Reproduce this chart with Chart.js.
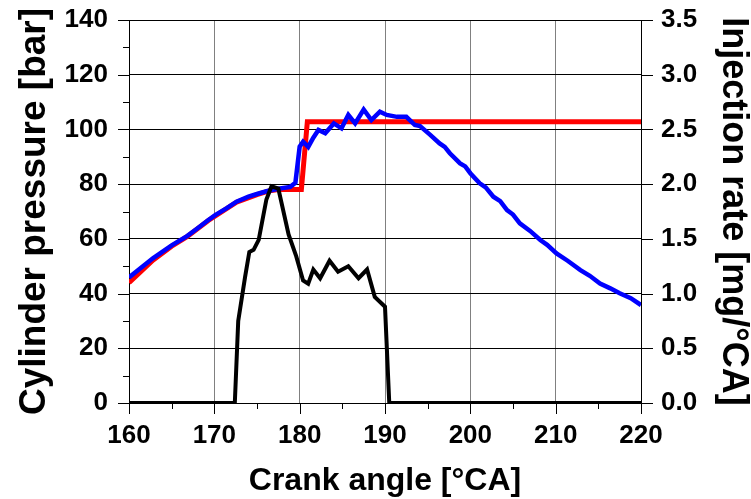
<!DOCTYPE html>
<html>
<head>
<meta charset="utf-8">
<script src="https://cdn.jsdelivr.net/npm/chart.js@4.4.0/dist/chart.umd.min.js"></script>
<style>
  html, body { margin: 0; padding: 0; background: #fff; }
</style>
</head>
<body>
<canvas id="pressureChart" width="751" height="499"></canvas>
<script>
// tick labels
const crankTicks = [160, 170, 180, 190, 200, 210, 220];
const pressureTicks = [0, 20, 40, 60, 80, 100, 120, 140];
const rateTicks = [0, 0.5, 1.0, 1.5, 2.0, 2.5, 3.0, 3.5];

// measured cylinder pressure (blue)
const measAngle = [160, 162.8, 165, 166.8, 168, 169.3, 170.1, 171.5, 172.6, 174, 175, 176.1, 177.5, 178.9, 179.5, 180.0, 180.4, 181.0, 181.6, 182.2, 183.0, 184.0, 184.9, 185.7, 186.5, 187.5, 188.4, 189.4, 190.2, 191.4, 192.5, 193.5, 194.1, 195.3, 196.4, 197.0, 197.6, 198.8, 199.4, 200.0, 201.1, 201.8, 202.7, 203.5, 204.3, 205.0, 205.8, 207.0, 208.2, 209.0, 210.1, 211.4, 212.9, 214.0, 215.2, 216.4, 217.5, 218.8, 220];
const measPressure = [45.9, 52.9, 57.6, 61.0, 63.8, 66.9, 68.7, 71.3, 73.6, 75.4, 76.4, 77.4, 78.3, 79.0, 80.5, 93.7, 95.5, 93.6, 97.0, 99.8, 98.6, 102.2, 100.4, 105.3, 102.2, 107.3, 103.4, 106.5, 105.3, 104.6, 104.6, 101.6, 101.2, 98.0, 94.9, 93.6, 91.3, 87.6, 86.5, 84.0, 80.3, 78.8, 75.4, 73.8, 70.5, 68.9, 65.7, 62.9, 59.6, 57.8, 54.7, 52.0, 48.6, 46.5, 43.7, 41.9, 40.1, 38.3, 35.8];

// simulated cylinder pressure (red)
const simAngle = [160, 162.8, 165, 166.8, 169.3, 172.6, 175, 176.5, 177.5, 180.2, 180.9, 220];
const simPressure = [44.0, 52.2, 57.3, 60.8, 66.7, 73.4, 76.2, 77.6, 78.0, 78.0, 102.8, 102.8];

// injection rate (black)
const injAngle = [160, 172.4, 172.8, 173.6, 174.1, 174.6, 175.2, 176.1, 176.7, 177.5, 178.7, 179.6, 180.4, 181.0, 181.6, 182.4, 183.5, 184.5, 185.7, 186.9, 187.9, 188.8, 190.0, 190.5, 220];
const injRate = [0, 0, 0.75, 1.15, 1.38, 1.40, 1.49, 1.86, 1.98, 1.96, 1.54, 1.34, 1.12, 1.09, 1.22, 1.14, 1.30, 1.20, 1.25, 1.14, 1.22, 0.97, 0.88, 0, 0];

const toPoints = (xs, ys) => xs.map((x, i) => ({ x: x, y: ys[i] }));

const FONT = "'Liberation Sans', Arial, sans-serif";

// tick marks outside the axes, majors long and minors short
const tickMarks = {
  id: 'tickMarks',
  afterDraw(chart) {
    const { ctx, chartArea: a, scales } = chart;
    const line = (x1, y1, x2, y2) => {
      ctx.beginPath();
      ctx.moveTo(x1, y1);
      ctx.lineTo(x2, y2);
      ctx.stroke();
    };
    ctx.save();
    ctx.strokeStyle = '#000';
    ctx.lineWidth = 1;
    crankTicks.forEach((v, i) => {
      const px = Math.round(scales.x.getPixelForValue(v)) + 0.5;
      line(px, a.bottom, px, a.bottom + 11);
      if (i < crankTicks.length - 1) {
        const pm = Math.round(scales.x.getPixelForValue((v + crankTicks[i + 1]) / 2)) + 0.5;
        line(pm, a.bottom, pm, a.bottom + 6);
      }
    });
    pressureTicks.forEach((v, i) => {
      const py = Math.round(scales.y.getPixelForValue(v)) + 0.5;
      line(a.left - 11, py, a.left, py);
      if (i < pressureTicks.length - 1) {
        const pm = Math.round(scales.y.getPixelForValue((v + pressureTicks[i + 1]) / 2)) + 0.5;
        line(a.left - 6, pm, a.left, pm);
      }
    });
    rateTicks.forEach(v => {
      const py = Math.round(scales.y2.getPixelForValue(v)) + 0.5;
      line(a.right, py, a.right + 12, py);
    });
    ctx.restore();
  }
};

// fixed box sizes so the plot area sits where the original one does
const fixBox = (w, h) => scale => {
  if (w) scale.width = w;
  if (h) scale.height = h;
  scale.paddingTop = 0;
  scale.paddingBottom = 0;
  scale.paddingLeft = 0;
  scale.paddingRight = 0;
};

const ctx = document.getElementById('pressureChart');

new Chart(ctx, {
  type: 'line',
  data: {
    datasets: [
      {
        label: 'Injection rate',
        data: toPoints(injAngle, injRate),
        yAxisID: 'y2',
        borderColor: '#000000',
        borderWidth: 4,
        pointRadius: 0,
        tension: 0,
        order: 0
      },
      {
        label: 'Measured pressure',
        data: toPoints(measAngle, measPressure),
        yAxisID: 'y',
        borderColor: '#0000ff',
        borderWidth: 4.5,
        pointRadius: 0,
        tension: 0,
        order: 1
      },
      {
        label: 'Simulated pressure',
        data: toPoints(simAngle, simPressure),
        yAxisID: 'y',
        borderColor: '#ff0000',
        borderWidth: 5,
        pointRadius: 0,
        tension: 0,
        order: 2
      }
    ]
  },
  options: {
    responsive: false,
    animation: false,
    devicePixelRatio: 1,
    layout: { padding: { top: 20, left: 0, right: 0, bottom: 0 } },
    plugins: {
      legend: { display: false },
      tooltip: { enabled: false }
    },
    scales: {
      x: {
        type: 'linear',
        min: 160,
        max: 220,
        afterFit: fixBox(0, 96),
        afterBuildTicks: scale => { scale.ticks = crankTicks.map(v => ({ value: v })); },
        grid: { color: '#808080', lineWidth: 1, drawTicks: false },
        border: { color: '#000', width: 1 },
        ticks: {
          padding: 17,
          color: '#000',
          font: { family: FONT, size: 26, weight: 'bold' }
        },
        title: {
          display: true,
          text: 'Crank angle [°CA]',
          color: '#000',
          padding: { top: 0, bottom: 2 },
          font: { family: FONT, size: 32, weight: 'bold', lineHeight: 1 }
        }
      },
      y: {
        type: 'linear',
        position: 'left',
        min: 0,
        max: 140,
        afterFit: fixBox(129, 0),
        afterBuildTicks: scale => { scale.ticks = pressureTicks.map(v => ({ value: v })); },
        grid: { color: '#000', lineWidth: 1, drawTicks: false },
        border: { color: '#000', width: 1 },
        ticks: {
          padding: 21,
          color: '#000',
          font: { family: FONT, size: 26, weight: 'bold' }
        },
        title: {
          display: true,
          text: 'Cylinder pressure [bar]',
          color: '#000',
          padding: { top: 16, bottom: 0 },
          font: { family: FONT, size: 37, weight: 'bold', lineHeight: 1 }
        }
      },
      y2: {
        type: 'linear',
        position: 'right',
        min: 0,
        max: 3.5,
        afterFit: fixBox(110, 0),
        afterBuildTicks: scale => { scale.ticks = rateTicks.map(v => ({ value: v })); },
        grid: { display: false, drawTicks: false },
        border: { color: '#000', width: 1 },
        ticks: {
          padding: 20,
          color: '#000',
          font: { family: FONT, size: 26, weight: 'bold' },
          callback: v => v.toFixed(1)
        },
        title: {
          display: true,
          text: 'Injection rate [mg/°CA]',
          color: '#000',
          padding: { top: 0, bottom: 0 },
          font: { family: FONT, size: 36, weight: 'bold', lineHeight: 1 }
        }
      }
    }
  },
  plugins: [tickMarks]
});
</script>
</body>
</html>
